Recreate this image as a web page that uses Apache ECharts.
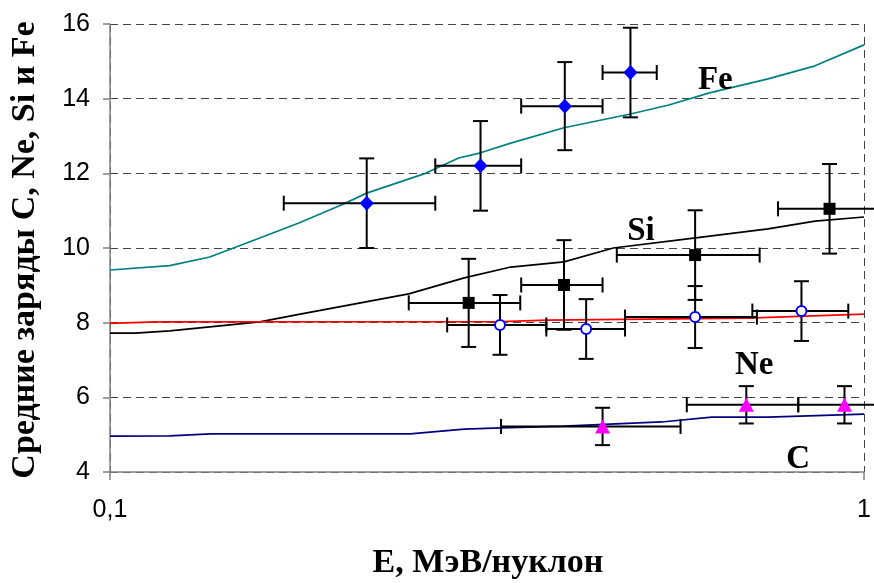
<!DOCTYPE html>
<html>
<head>
<meta charset="utf-8">
<script src="https://cdn.jsdelivr.net/npm/echarts@6/dist/echarts.min.js"></script>
<style>
  html, body { margin: 0; padding: 0; background: #fff; }
  #chart { width: 874px; height: 583px; }
</style>
</head>
<body>
<div id="chart"></div>
<script>
// Measured mean charges with energy (x) and charge (y) uncertainties
const feE    = [0.219, 0.310, 0.401, 0.490];
const feZ    = [11.2, 12.2, 13.8, 14.7];
const feElo  = [0.170, 0.270, 0.351, 0.450];
const feEhi  = [0.270, 0.351, 0.450, 0.531];
const feZerr = [1.2, 1.2, 1.18, 1.2];

const siE    = [0.299, 0.400, 0.597, 0.900];
const siZ    = [8.53, 9.01, 9.81, 11.05];
const siElo  = [0.249, 0.351, 0.470, 0.769];
const siEhi  = [0.350, 0.450, 0.727, 1.05];
const siZerr = [1.18, 1.2, 1.2, 1.2];

const neE    = [0.329, 0.428, 0.597, 0.826];
const neZ    = [7.94, 7.83, 8.15, 8.31];
const neElo  = [0.280, 0.379, 0.482, 0.711];
const neEhi  = [0.379, 0.482, 0.721, 0.953];
const neZerr = [0.8, 0.8, 0.83, 0.8];

const cE     = [0.450, 0.698, 0.942];
const cZ     = [5.22, 5.8, 5.8];
const cElo   = [0.330, 0.582, 0.818];
const cEhi   = [0.571, 0.818, 1.08];
const cZerr  = [0.5, 0.5, 0.5];

// Calculated equilibrium charge curves
const feCurveE = [0.1, 0.12, 0.1356, 0.158, 0.178, 0.203, 0.219, 0.262, 0.290, 0.310, 0.340, 0.400, 0.490, 0.551, 0.622, 0.746, 0.861, 1.0];
const feCurveZ = [9.41, 9.53, 9.76, 10.27, 10.67, 11.16, 11.47, 12.0, 12.41, 12.55, 12.81, 13.22, 13.59, 13.83, 14.15, 14.53, 14.88, 15.44];

const siCurveE = [0.1, 0.108, 0.12, 0.158, 0.178, 0.249, 0.295, 0.340, 0.400, 0.465, 0.598, 0.746, 0.861, 1.0];
const siCurveZ = [7.72, 7.72, 7.78, 8.02, 8.22, 8.77, 9.2, 9.49, 9.63, 10.0, 10.27, 10.51, 10.72, 10.83];

const neCurveE = [0.1, 0.115, 0.33, 0.38, 0.70, 1.0];
const neCurveZ = [7.98, 8.02, 8.03, 8.07, 8.12, 8.23];

const cCurveE  = [0.1, 0.12, 0.136, 0.25, 0.295, 0.33, 0.40, 0.539, 0.628, 0.746, 1.0];
const cCurveZ  = [4.96, 4.97, 5.02, 5.02, 5.15, 5.18, 5.23, 5.34, 5.47, 5.47, 5.55];

// Element tags placed in data coordinates
const tagNames = ['Fe', 'Si', 'Ne', 'C'];
const tagE     = [0.635, 0.506, 0.715, 0.818];
const tagZ     = [14.48, 10.45, 6.85, 4.34];

const yTicks = [4, 16, 2]; // min, max, step
const xTitle = 'E, МэВ/нуклон';
const yTitle = 'Средние заряды C, Ne, Si и Fe';

const pairs = (xs, ys) => xs.map((x, i) => [x, ys[i]]);
const errRows = (e, z, elo, ehi, zerr) =>
  e.map((x, i) => [x, z[i], elo[i], ehi[i], z[i] - zerr[i], z[i] + zerr[i]]);

const serif = 'Liberation Serif';
const sans = 'Liberation Sans';
const gridColor = '#444';
const axisColor = '#808080';

function renderErrorBar(params, api) {
  const x = api.value(0), y = api.value(1);
  const c = api.coord([x, y]);
  const l = api.coord([api.value(2), y]);
  const r = api.coord([api.value(3), y]);
  const lo = api.coord([x, api.value(4)]);
  const hi = api.coord([x, api.value(5)]);
  const cap = 7.5;
  const st = { stroke: '#000', lineWidth: 2 };
  const seg = (x1, y1, x2, y2) => ({ type: 'line', shape: { x1, y1, x2, y2 }, style: st });
  return {
    type: 'group',
    children: [
      seg(l[0], c[1], r[0], c[1]),
      seg(l[0], c[1] - cap, l[0], c[1] + cap),
      seg(r[0], c[1] - cap, r[0], c[1] + cap),
      seg(c[0], lo[1], c[0], hi[1]),
      seg(c[0] - cap, lo[1], c[0] + cap, lo[1]),
      seg(c[0] - cap, hi[1], c[0] + cap, hi[1])
    ]
  };
}

const curve = (data, color) => ({
  type: 'line', data, symbol: 'none', smooth: false, z: 2,
  lineStyle: { color, width: 1.7 }, silent: true, animation: false
});

const errSeries = (rows) => ({
  type: 'custom', data: rows, renderItem: renderErrorBar, clip: false, z: 3,
  encode: { x: 0, y: 1 }, silent: true, animation: false
});

const markers = (data, symbol, size, itemStyle) => ({
  type: 'scatter', data, symbol, symbolSize: size, z: 4, silent: true,
  itemStyle: Object.assign({ opacity: 1 }, itemStyle)
});

const chart = echarts.init(document.getElementById('chart'), null, { renderer: 'canvas' });

chart.setOption({
  backgroundColor: '#fff',
  animation: false,
  grid: { left: 110, right: 8, top: 24, bottom: 111 },
  xAxis: {
    type: 'log', logBase: 10, min: 0.1, max: 1,
    axisLine: { show: true, lineStyle: { color: axisColor, width: 1.5 } },
    axisTick: { show: true, inside: false, length: 8, lineStyle: { color: axisColor, width: 1.5 } },
    minorTick: { show: false },
    axisLabel: {
      margin: 26, color: '#000', fontFamily: sans, fontSize: 25,
      formatter: v => String(+v.toPrecision(3)).replace('.', ',')
    },
    splitLine: { show: true, lineStyle: { color: gridColor, type: [8, 5], width: 1 } }
  },
  yAxis: {
    type: 'value', min: yTicks[0], max: yTicks[1], interval: yTicks[2],
    axisLine: { show: true, lineStyle: { color: axisColor, width: 1.5 } },
    axisTick: { show: true, inside: false, length: 7, lineStyle: { color: axisColor, width: 1.5 } },
    axisLabel: { margin: 20, color: '#000', fontFamily: sans, fontSize: 25 },
    splitLine: { show: true, lineStyle: { color: gridColor, type: [8, 5], width: 1 } }
  },
  graphic: [
    {
      type: 'text', x: 488, y: 563,
      style: { text: xTitle, font: 'bold 34px "' + serif + '"', fill: '#000', textAlign: 'center', textVerticalAlign: 'middle' }
    },
    {
      type: 'text', x: 25, y: 250, rotation: Math.PI / 2,
      style: { text: yTitle, font: 'bold 34px "' + serif + '"', fill: '#000', textAlign: 'center', textVerticalAlign: 'middle' }
    }
  ],
  series: [
    curve(pairs(feCurveE, feCurveZ), '#008080'),
    curve(pairs(siCurveE, siCurveZ), '#000000'),
    curve(pairs(neCurveE, neCurveZ), '#FF0000'),
    curve(pairs(cCurveE, cCurveZ), '#000080'),
    errSeries(errRows(feE, feZ, feElo, feEhi, feZerr)),
    errSeries(errRows(siE, siZ, siElo, siEhi, siZerr)),
    errSeries(errRows(neE, neZ, neElo, neEhi, neZerr)),
    errSeries(errRows(cE, cZ, cElo, cEhi, cZerr)),
    markers(pairs(feE, feZ), 'diamond', [14, 15], { color: '#0000FF' }),
    markers(pairs(siE, siZ), 'rect', 12, { color: '#000000' }),
    markers(pairs(neE, neZ), 'circle', 10, { color: '#FFFFFF', borderColor: '#0000FF', borderWidth: 2 }),
    markers(pairs(cE, cZ), 'triangle', [15, 14], { color: '#FF00FF' }),
    {
      type: 'scatter', data: pairs(tagE, tagZ).map((p, i) => ({ value: p, name: tagNames[i] })),
      symbolSize: 1, z: 5, silent: true,
      itemStyle: { color: 'rgba(0,0,0,0)', opacity: 1 },
      label: {
        show: true, position: 'inside', formatter: p => p.name,
        fontFamily: serif, fontWeight: 'bold', fontSize: 33, color: '#000'
      }
    }
  ]
});
</script>
</body>
</html>
